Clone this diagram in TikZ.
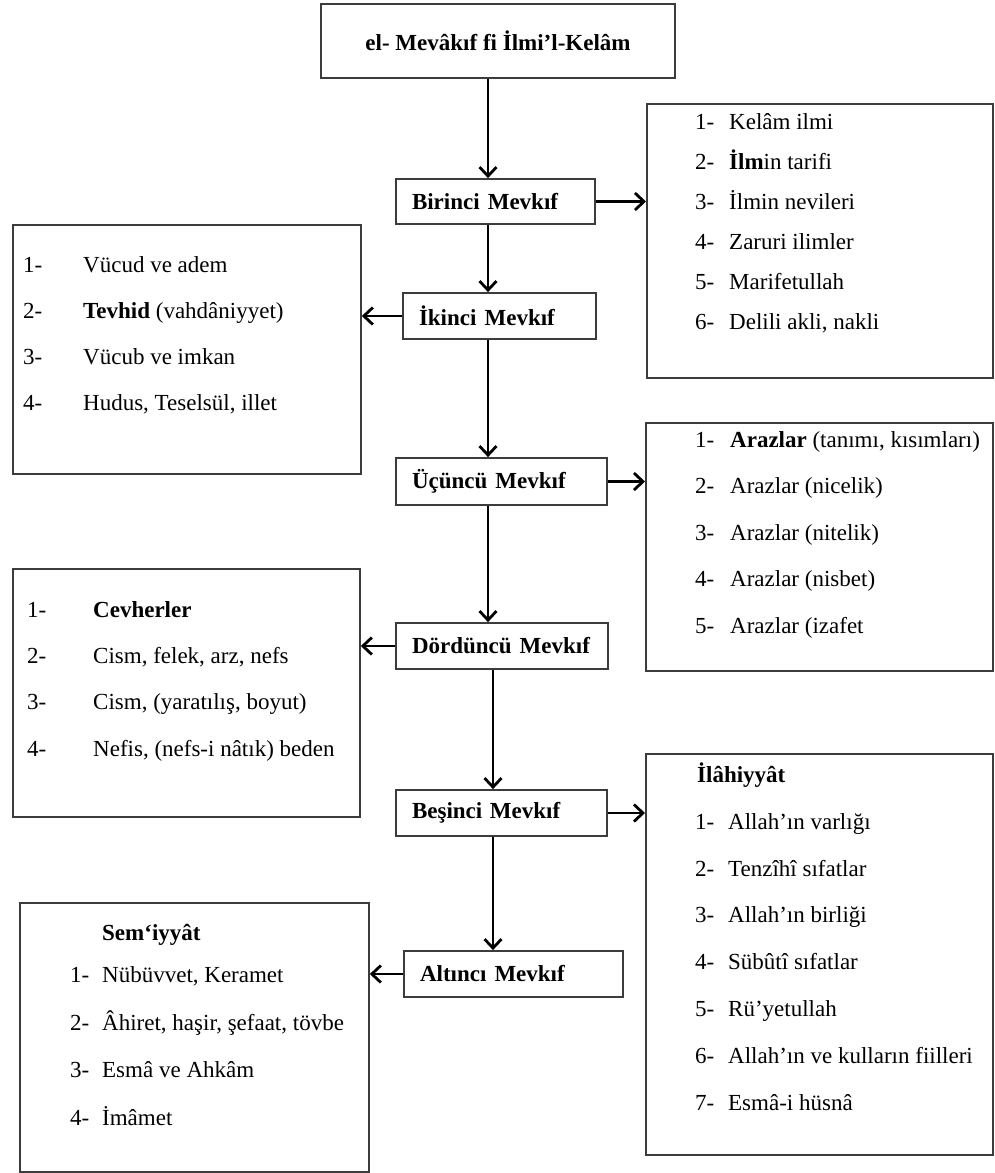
\documentclass[tikz,border=0pt]{standalone}
\usepackage{fontspec}
\setmainfont{Liberation Serif}
\usetikzlibrary{positioning}
\usetikzlibrary{calc}
\usetikzlibrary{arrows.meta}
\definecolor{cizgi}{RGB}{60,60,60}
\newcommand{\yazi}{\fontsize{23}{27}\selectfont}

\begin{document}
\begin{tikzpicture}[x=1pt, y=-1pt,
	baslikkutu/.style={draw=cizgi, line width=1.8pt, font=\yazi\bfseries, inner sep=0pt},
	mevkif/.style={draw=cizgi, line width=1.8pt, font=\yazi\bfseries, inner xsep=16pt, inner ysep=0pt, align=left},
	liste/.style={draw=cizgi, line width=1.8pt, inner sep=0pt, anchor=north west},
	satir/.style={anchor=mid west, inner sep=0pt, font=\yazi},
	ok/.style={-{Straight Barb[length=9pt,width=17pt]}, line width=2.8pt}]
			\useasboundingbox (0,0) rectangle (994,1173);

			% Title
			\node[baslikkutu, minimum width=354pt, minimum height=74pt] (baslik) at (498,41) {el- Mevâkıf fi İlmi’l-Kelâm};

			% Mevkif boxes
			\node[mevkif, text width=167pt, minimum height=45pt] (mev1) at (495.5,201.5) {\mbox{Birinci\hspace{0.35em}Mevkıf}};
			\node[mevkif, text width=161pt, minimum height=46pt] (mev2) at (499.5,316) {\mbox{İkinci\hspace{0.35em}Mevkıf}};
			\node[mevkif, text width=179pt, minimum height=47pt] (mev3) at (501.5,481.5) {\mbox{Üçüncü\hspace{0.35em}Mevkıf}};
			\node[mevkif, text width=180pt, minimum height=46pt] (mev4) at (502,646) {\mbox{Dördüncü\hspace{0.35em}Mevkıf}};
			\node[mevkif, text width=179pt, minimum height=46pt] (mev5) at (501.5,813) {\mbox{Beşinci Mevkıf}};
			\node[mevkif, text width=187pt, minimum height=46pt] (mev6) at (513.5,974) {\mbox{Altıncı\hspace{0.35em}Mevkıf}};

			% Side boxes
			\node[liste, minimum width=346pt, minimum height=274pt] (r1) at (646,103) {};
			\node[liste, minimum width=348pt, minimum height=249pt] (l1) at (12,224) {};
			\node[liste, minimum width=347pt, minimum height=248pt] (r2) at (645,422) {};
			\node[liste, minimum width=347pt, minimum height=248pt] (l2) at (12,568) {};
			\node[liste, minimum width=347pt, minimum height=401pt] (r3) at (645,753) {};
			\node[liste, minimum width=349pt, minimum height=269pt] (l3) at (19,902) {};

			% Birinci
			\foreach \no/\metin [count=\i] in {1-/Kelâm ilmi, 2-/{\textbf{İlm}in tarifi}, 3-/İlmin nevileri, 4-/Zaruri ilimler, 5-/Marifetullah, 6-/{Delili akli, nakli}}
				\node[satir] (r1s\i) at (695,{127+40*(\i-1)}) {\makebox[34pt][l]{\no}\metin};

			% Ikinci
			\foreach \no/\metin [count=\i] in {1-/Vücud ve adem, 2-/{\textbf{Tevhid} (vahdâniyyet)}, 3-/Vücub ve imkan, 4-/{Hudus, Teselsül, illet}}
				\node[satir] (l1s\i) at (23,{270+46*(\i-1)}) {\makebox[60pt][l]{\no}\metin};

			% Ucuncu
			\foreach \no/\metin [count=\i] in {1-/{\textbf{Arazlar} (tanımı, kısımları)}, 2-/Arazlar (nicelik), 3-/Arazlar (nitelik), 4-/Arazlar (nisbet), 5-/Arazlar (izafet}
				\node[satir] (r2s\i) at (695,{445+46.5*(\i-1)}) {\makebox[35pt][l]{\no}\metin};

			% Dorduncu
			\foreach \no/\metin [count=\i] in {1-/\textbf{Cevherler}, 2-/{Cism, felek, arz, nefs}, 3-/{Cism, (yaratılış, boyut)}, 4-/{Nefis, (nefs-i nâtık) beden}}
				\node[satir] (l2s\i) at (27,{615+46.3*(\i-1)}) {\makebox[66pt][l]{\no}\metin};

			% Besinci
			\node[satir, font=\yazi\bfseries] (r3b) at (697,780) {İlâhiyyât};
			\foreach \no/\metin [count=\i] in {1-/Allah’ın varlığı, 2-/Tenzîhî sıfatlar, 3-/Allah’ın birliği, 4-/Sübûtî sıfatlar, 5-/Rü’yetullah, 6-/Allah’ın ve kulların fiilleri, 7-/Esmâ-i hüsnâ}
				\node[satir] (r3s\i) at (695,{827+46.8*(\i-1)}) {\makebox[33pt][l]{\no}\metin};

			% Altinci
			\node[satir, font=\yazi\bfseries] (l3b) at (102,938) {Sem‘iyyât};
			\foreach \no/\metin [count=\i] in {1-/{Nübüvvet, Keramet}, 2-/{Âhiret, haşir, şefaat, tövbe}, 3-/Esmâ ve Ahkâm, 4-/İmâmet}
				\node[satir] (l3s\i) at (70,{980+47.7*(\i-1)}) {\makebox[32pt][l]{\no}\metin};

			% Arrows down
			\coordinate (eksen) at (488,0);
			\coordinate (eksen2) at (493,0);
			\draw[ok] (baslik.south -| eksen) -- (mev1.north -| eksen);
			\draw[ok] (mev1.south -| eksen) -- (mev2.north -| eksen);
			\draw[ok] (mev2.south -| eksen) -- (mev3.north -| eksen);
			\draw[ok] (mev3.south -| eksen) -- (mev4.north -| eksen);
			\draw[ok] (mev4.south -| eksen2) -- (mev5.north -| eksen2);
			\draw[ok] (mev5.south -| eksen2) -- (mev6.north -| eksen2);

			% Arrows to the sides
			\draw[ok] (mev1.east) -- (mev1.east -| r1.west);
			\draw[ok] (mev2.west) -- (mev2.west -| l1.east);
			\draw[ok] (mev3.east) -- (mev3.east -| r2.west);
			\draw[ok] (mev4.west) -- (mev4.west -| l2.east);
			\draw[ok] (mev5.east) -- (mev5.east -| r3.west);
			\draw[ok] (mev6.west) -- (mev6.west -| l3.east);
		\end{tikzpicture}
\end{document}
